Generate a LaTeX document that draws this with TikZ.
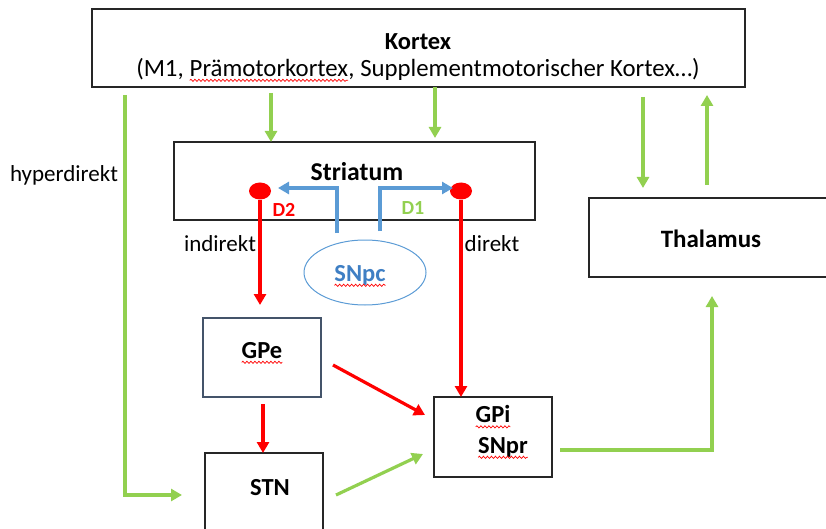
\documentclass[tikz,border=0pt]{standalone}
\usepackage{fontspec}
\setmainfont{Carlito}
\usetikzlibrary{arrows.meta,decorations.pathmorphing,shapes.geometric}
\definecolor{grn}{HTML}{92D050}
\definecolor{rd}{HTML}{FF0000}
\definecolor{blu}{HTML}{5B9BD5}
\definecolor{snblue}{HTML}{3F7FC4}
\definecolor{gpeedge}{HTML}{44546A}
\newcommand\spellwave[1]{\tikz[baseline=(sw.base)]{\node[inner sep=0pt,outer sep=0pt](sw){#1};\draw[rd,line width=0.7pt,decorate,decoration={snake,amplitude=1.1pt,segment length=4pt}]([yshift=-4pt]sw.base west)--([yshift=-4pt]sw.base east);}}
\tikzset{
  box/.style={draw=black!85, line width=1.4pt, rectangle, inner sep=0pt, outer sep=0pt},
  lbl/.style={inner sep=0pt, font=\fontsize{24.5}{28}\selectfont\bfseries},
  txt/.style={inner sep=0pt, font=\fontsize{23}{28}\selectfont},
  tip/.style={-{Triangle[width=12pt,length=11pt]}},
  garrow/.style={tip, draw=grn, line width=3.2pt},
  rarrow/.style={tip, draw=rd, line width=3.2pt},
  barrow/.style={tip, draw=blu, line width=3.2pt},
  dot/.style={ellipse, fill=rd, minimum width=22pt, minimum height=17pt, inner sep=0pt},
}
\begin{document}
\begin{tikzpicture}[x=1pt,y=-1pt]
\useasboundingbox (0,0) rectangle (826,529);
% boxes
\node[box, minimum width=653pt, minimum height=78pt] (kortex) at (418.5,48) {};
\node[lbl] (kt) at (418,42) {Kortex};
\node[txt, font=\fontsize{24.8}{28}\selectfont] (ksub) at (418,70) {(M1, \spellwave{Prämotorkortex}, Supplementmotorischer Kortex…)};
\node[box, minimum width=361pt, minimum height=78pt] (striatum) at (354.5,181) {};
\node[lbl, font=\fontsize{25.7}{28}\selectfont\bfseries] (st) at (357,172) {Striatum};
\node[box, minimum width=244pt, minimum height=79pt] (thalamus) at (711,237.5) {};
\node[lbl, font=\fontsize{25}{28}\selectfont\bfseries] (th) at (711,239) {Thalamus};
\node[box, draw=gpeedge, minimum width=118pt, minimum height=79pt] (gpe) at (262,357.5) {};
\node[lbl] (gpet) at (262,353) {\spellwave{GPe}};
\node[box, minimum width=118pt, minimum height=80pt] (gpi) at (493,437) {};
\node[lbl] (gpit) at (493,417) {\spellwave{GPi}};
\node[lbl] (snprt) at (503,448) {\spellwave{SNpr}};
\node[box, minimum width=118pt, minimum height=84pt] (stn) at (264,495) {};
\node[lbl] (stnt) at (270,488) {STN};
\node[draw=blu, line width=1pt, ellipse, minimum width=122pt, minimum height=65pt, inner sep=0pt] (snpc) at (365,272.5) {};
\node[lbl, text=snblue] (snpct) at (360,276) {\spellwave{SNpc}};
% dots
\node[dot] (d2) at (260,191) {};
\node[dot] (d1) at (461,191) {};
% labels
\node[lbl, text=rd, font=\fontsize{20}{24}\selectfont\bfseries] (d2t) at (284,210) {D2};
\node[lbl, text=grn, font=\fontsize{20}{24}\selectfont\bfseries] (d1t) at (413,208) {D1};
\node[txt] (ind) at (220,244) {indirekt};
\node[txt] (dir) at (492,244) {direkt};
\node[txt] (hyp) at (64,175) {hyperdirekt};
% coordinates for free ends
\coordinate (h0) at (125,95);
\coordinate (k1) at (271,93);
\coordinate (k2) at (435,87);
\coordinate (k3) at (643,97);
\coordinate (k4) at (707,185);
\coordinate (b1) at (337,233);
\coordinate (b2) at (380,231);
\coordinate (g0) at (560,450);
% green arrows
\draw[garrow] (h0) |- ([xshift=-23pt]stn.west);
\draw[garrow] (k1) -- (k1 |- striatum.north);
\draw[garrow] (k2) -- ([yshift=4pt]k2 |- striatum.north);
\draw[garrow] (k3) -- ([yshift=10pt]k3 |- thalamus.north);
\draw[garrow] (k4) -- ([yshift=-8pt]k4 |- kortex.south);
\draw[garrow] (g0) -| ([yshift=-19pt]thalamus.south -| 712,0);
\draw[garrow] (336,495) -- (423,454);
% red arrows
\draw[rarrow] (d2.south) -- ([yshift=13pt]gpe.north -| d2);
\draw[rarrow] (d1.south) -- (gpi.north -| d1);
\draw[rarrow] (333,365) -- (425,415);
\draw[rarrow] ([yshift=-7pt]gpe.south -| 263,0) -- (stn.north -| 263,0);
% blue arrows
\draw[barrow] (b1) |- (278,188);
\draw[barrow] (b2) |- (453,188);
\end{tikzpicture}
\end{document}
